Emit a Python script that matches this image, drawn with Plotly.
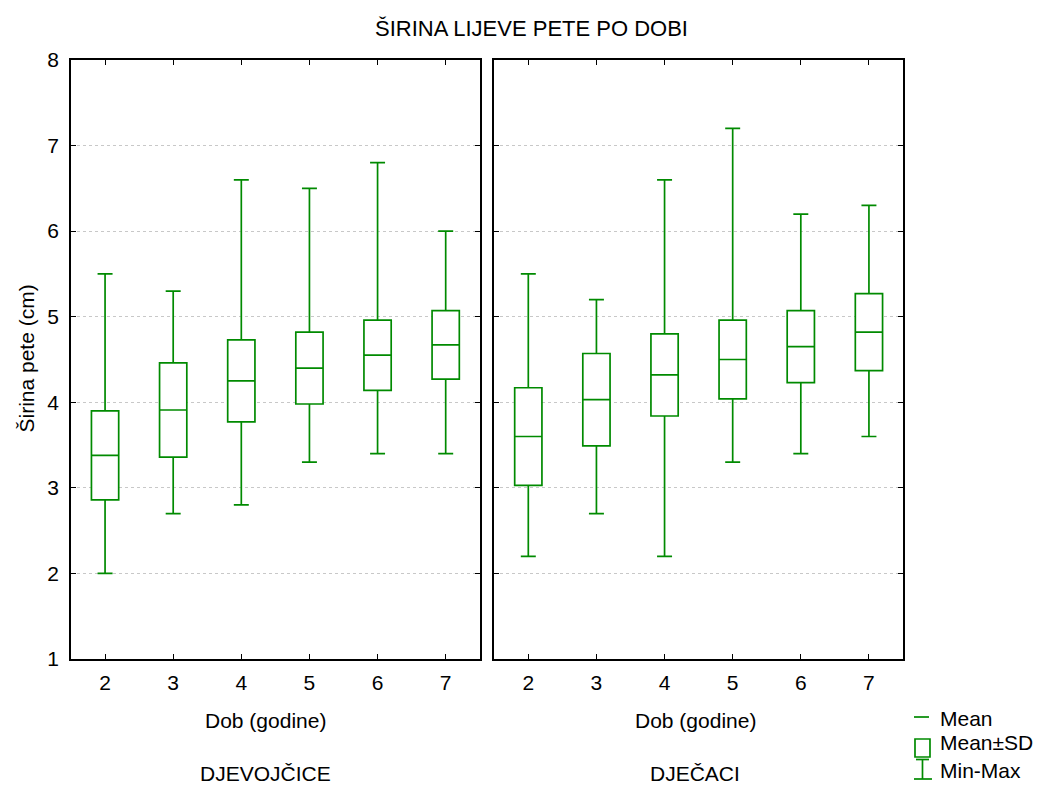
import plotly.graph_objects as go
from plotly.subplots import make_subplots

ages = [2, 3, 4, 5, 6, 7]

# DJEVOJČICE (girls)
g_mean = [3.38, 3.91, 4.25, 4.40, 4.55, 4.67]
g_sd = [0.52, 0.55, 0.48, 0.42, 0.41, 0.40]
g_min = [2.0, 2.7, 2.8, 3.3, 3.4, 3.4]
g_max = [5.5, 5.3, 6.6, 6.5, 6.8, 6.0]

# DJEČACI (boys)
b_mean = [3.60, 4.03, 4.32, 4.50, 4.65, 4.82]
b_sd = [0.57, 0.54, 0.48, 0.46, 0.42, 0.45]
b_min = [2.2, 2.7, 2.2, 3.3, 3.4, 3.6]
b_max = [5.5, 5.2, 6.6, 7.2, 6.2, 6.3]

panel_labels = ["DJEVOJČICE", "DJEČACI"]
x_title = "Dob (godine)"
y_title = "Širina pete (cm)"
title = "ŠIRINA LIJEVE PETE PO DOBI"
legend_labels = ["Mean", "Mean±SD", "Min-Max"]

GREEN = "#008a00"
FONT = "Liberation Sans, Arial, sans-serif"
FS = 21

OFF = 8  # page body margin
W, H = 1043 - OFF, 786 - OFF
# plot area in page pixels
PL, PR, PT, PB = 70.5, 903, 60, 659
ML, MT = PL - OFF, PT - OFF
MR, MB = W - (PR - OFF), H - (PB - OFF)
PW, PH = W - ML - MR, H - MT - MB


def px(x):
    return (x - OFF - ML) / PW


def py(y):
    return (H - MB - (y - OFF)) / PH


fig = make_subplots(rows=1, cols=2, shared_yaxes=True, horizontal_spacing=0.018)

for col, (mean, sd, mn, mx) in enumerate(
    [(g_mean, g_sd, g_min, g_max), (b_mean, b_sd, b_min, b_max)], start=1
):
    fig.add_trace(
        go.Box(
            x=ages,
            q1=[m - s for m, s in zip(mean, sd)],
            median=mean,
            q3=[m + s for m, s in zip(mean, sd)],
            lowerfence=mn,
            upperfence=mx,
            width=0.4,
            whiskerwidth=0.55,
            line=dict(color=GREEN, width=1.7),
            fillcolor="white",
            boxpoints=False,
            showlegend=False,
            hoverinfo="skip",
        ),
        row=1,
        col=col,
    )

axis_common = dict(
    showline=True,
    linecolor="black",
    linewidth=1.6,
    mirror="ticks",
    ticks="inside",
    ticklen=5,
    tickcolor="black",
    tickwidth=1.3,
    tickfont=dict(size=FS, color="black", family=FONT),
    zeroline=False,
)

for i in (1, 2):
    fig.update_xaxes(
        range=[1.5, 7.5],
        tickvals=ages,
        ticktext=[str(a) for a in ages],
        showgrid=False,
        ticklabelstandoff=4,
        row=1,
        col=i,
        **axis_common,
    )
    fig.update_yaxes(
        range=[1, 8],
        tickvals=[1, 2, 3, 4, 5, 6, 7, 8],
        showgrid=True,
        gridcolor="#c8c8c8",
        griddash="dot",
        gridwidth=1,
        ticklabelstandoff=6,
        row=1,
        col=i,
        **axis_common,
    )
fig.update_yaxes(showticklabels=False, row=1, col=2)
fig.update_xaxes(domain=[0, px(479.5)], row=1, col=1)
fig.update_xaxes(domain=[px(494), 1], row=1, col=2)

annotations = []
for cx, lab in [(265, panel_labels[0]), (695, panel_labels[1])]:
    annotations.append(
        dict(x=px(cx), y=py(720), xref="paper", yref="paper", text=x_title,
             showarrow=False, font=dict(size=FS, color="black", family=FONT),
             xanchor="center", yanchor="middle")
    )
    annotations.append(
        dict(x=px(cx), y=py(773), xref="paper", yref="paper", text=lab,
             showarrow=False, font=dict(size=FS, color="black", family=FONT),
             xanchor="center", yanchor="middle")
    )
annotations.append(
    dict(x=px(25), y=py(359), xref="paper", yref="paper", text=y_title,
         textangle=-90, showarrow=False,
         font=dict(size=FS, color="black", family=FONT),
         xanchor="center", yanchor="middle")
)
annotations.append(
    dict(x=px(531), y=py(29), xref="paper", yref="paper", text=title,
         showarrow=False, font=dict(size=22, color="black", family=FONT),
         xanchor="center", yanchor="middle")
)
# legend labels
for ty, lab in zip([718, 743, 770], legend_labels):
    annotations.append(
        dict(x=px(938), y=py(ty), xref="paper", yref="paper", text=lab,
             showarrow=False, font=dict(size=FS, color="black", family=FONT),
             xanchor="left", yanchor="middle")
    )

lw = 1.7
shapes = [
    # Mean
    dict(type="line", xref="paper", yref="paper", x0=px(914), x1=px(929),
         y0=py(717), y1=py(717), line=dict(color=GREEN, width=lw)),
    # Mean±SD box
    dict(type="rect", xref="paper", yref="paper", x0=px(915), x1=px(930),
         y0=py(739), y1=py(757), line=dict(color=GREEN, width=lw),
         fillcolor="white"),
    # Min-Max I-bar
    dict(type="line", xref="paper", yref="paper", x0=px(922.5), x1=px(922.5),
         y0=py(759.5), y1=py(779), line=dict(color=GREEN, width=lw)),
    dict(type="line", xref="paper", yref="paper", x0=px(916), x1=px(929),
         y0=py(759.5), y1=py(759.5), line=dict(color=GREEN, width=lw)),
    dict(type="line", xref="paper", yref="paper", x0=px(914), x1=px(932),
         y0=py(779), y1=py(779), line=dict(color=GREEN, width=lw)),
]

fig.update_layout(
    width=W,
    height=H,
    margin=dict(l=ML, r=MR, t=MT, b=MB),
    paper_bgcolor="white",
    plot_bgcolor="white",
    font=dict(family=FONT, color="black"),
    annotations=annotations,
    shapes=shapes,
    showlegend=False,
)

fig.write_html("out.html")
